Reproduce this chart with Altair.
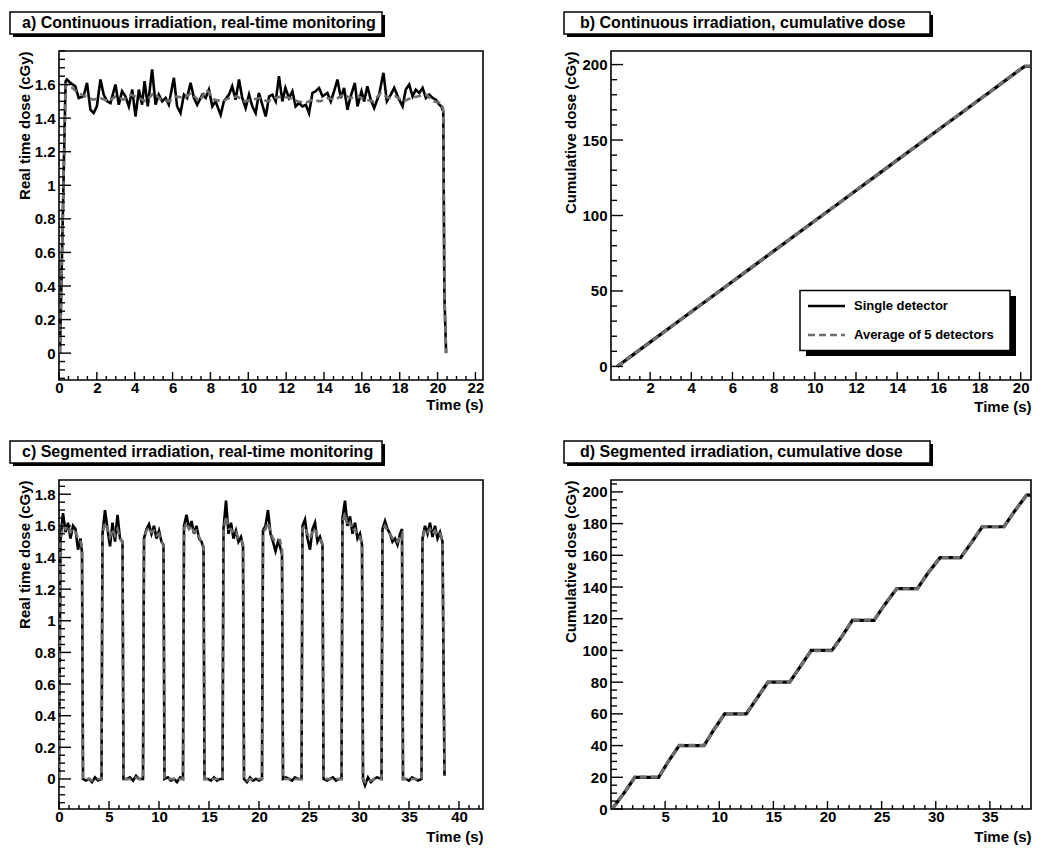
import altair as alt
import pandas as pd

FONT = "Liberation Sans"
GRAY = "#6e6e6e"

TITLES = [
    "a) Continuous irradiation, real-time monitoring",
    "b) Continuous irradiation, cumulative dose",
    "c) Segmented irradiation, real-time monitoring",
    "d) Segmented irradiation, cumulative dose",
]
LEGEND_LABELS = ["Single detector", "Average of 5 detectors"]
X_TITLE = "Time (s)"
Y_TITLE_RT = "Real time dose (cGy)"
Y_TITLE_CUM = "Cumulative dose (cGy)"

# ---------- panel a: continuous, real time ----------
A_T = [0.05, 0.35, 0.42, 0.6, 0.86, 1.04, 1.3, 1.48, 1.66, 1.83,
       2.0, 2.19, 2.36, 2.54, 2.72, 2.98, 3.16, 3.33, 3.51, 3.69,
       3.87, 4.04, 4.22, 4.39, 4.52, 4.69, 4.92, 5.1, 5.27, 5.45,
       5.63, 5.8, 6.07, 6.24, 6.42, 6.6, 6.77, 6.95, 7.13, 7.3,
       7.57, 7.75, 7.92, 8.1, 8.27, 8.54, 8.71, 8.98, 9.15, 9.33,
       9.51, 9.68, 9.86, 10.04, 10.21, 10.39, 10.56, 10.74, 10.92, 11.1,
       11.27, 11.45, 11.62, 11.8, 11.96, 12.15, 12.33, 12.5, 12.68, 12.86,
       13.04, 13.21, 13.39, 13.56, 13.74, 13.92, 14.18, 14.36, 14.53, 14.71,
       14.89, 15.06, 15.24, 15.41, 15.63, 15.77, 15.98, 16.12, 16.29, 16.47,
       16.65, 16.91, 17.14, 17.32, 17.53, 17.71, 17.97, 18.15, 18.32, 18.5,
       18.68, 18.85, 19.03, 19.21, 19.38, 19.56, 19.74, 19.91, 20.09, 20.2,
       20.3, 20.36, 20.45]
A_SINGLE = [0.0, 1.62, 1.63, 1.61, 1.59, 1.52, 1.53, 1.61, 1.45, 1.43,
            1.47, 1.63, 1.54, 1.50, 1.49, 1.60, 1.48, 1.56, 1.53, 1.47,
            1.57, 1.41, 1.57, 1.48, 1.62, 1.47, 1.69, 1.48, 1.54, 1.50,
            1.52, 1.48, 1.64, 1.47, 1.43, 1.54, 1.52, 1.61, 1.52, 1.48,
            1.54, 1.52, 1.57, 1.47, 1.50, 1.42, 1.50, 1.54, 1.59, 1.51,
            1.63, 1.52, 1.46, 1.54, 1.47, 1.43, 1.55, 1.48, 1.41, 1.53,
            1.54, 1.50, 1.65, 1.50, 1.58, 1.52, 1.56, 1.47, 1.49, 1.47,
            1.48, 1.43, 1.55, 1.56, 1.58, 1.53, 1.55, 1.50, 1.56, 1.63,
            1.52, 1.58, 1.45, 1.53, 1.61, 1.47, 1.56, 1.50, 1.59, 1.51,
            1.46, 1.54, 1.67, 1.50, 1.54, 1.58, 1.51, 1.47, 1.57, 1.60,
            1.53, 1.57, 1.55, 1.58, 1.52, 1.54, 1.52, 1.51, 1.48, 1.47,
            1.44, 0.35, 0.0]
A_AVG_T = [0.05, 0.35, 0.6, 1.0, 1.4, 1.8, 2.2, 2.6, 3.0, 3.4,
           3.8, 4.2, 4.6, 5.0, 5.4, 5.8, 6.2, 6.6, 7.0, 7.4,
           7.8, 8.2, 8.6, 9.0, 9.4, 9.8, 10.2, 10.6, 11.0, 11.4,
           11.8, 12.2, 12.6, 13.0, 13.4, 13.8, 14.2, 14.6, 15.0, 15.4,
           15.8, 16.2, 16.6, 17.0, 17.4, 17.8, 18.2, 18.6, 19.0, 19.4,
           19.8, 20.2, 20.3, 20.36, 20.45]
A_AVG = [0.0, 1.60, 1.59, 1.55, 1.53, 1.51, 1.52, 1.50, 1.53, 1.51,
         1.54, 1.52, 1.50, 1.55, 1.51, 1.50, 1.53, 1.52, 1.55, 1.50,
         1.57, 1.51, 1.50, 1.52, 1.53, 1.50, 1.51, 1.52, 1.50, 1.52,
         1.53, 1.52, 1.50, 1.49, 1.51, 1.50, 1.52, 1.51, 1.54, 1.52,
         1.53, 1.51, 1.50, 1.55, 1.52, 1.53, 1.50, 1.52, 1.53, 1.54,
         1.50, 1.49, 1.45, 0.35, 0.0]

# ---------- panel b: continuous, cumulative ----------
B_T = [0.4, 1, 2, 3, 4, 5, 6, 7, 8, 9, 10, 11, 12, 13, 14, 15, 16, 17, 18, 19, 20, 20.2, 20.45]
B_SINGLE = [0, 6.0, 16.1, 26.1, 36.2, 46.2, 56.3, 66.3, 76.4, 86.4, 96.5, 106.5,
            116.6, 126.6, 136.7, 146.7, 156.8, 166.8, 176.9, 186.9, 197.0, 198.8, 198.8]
B_AVG = [0, 6.1, 16.0, 26.2, 36.1, 46.3, 56.2, 66.4, 76.3, 86.5, 96.4, 106.6,
         116.5, 126.7, 136.6, 146.8, 156.7, 166.9, 176.8, 187.0, 197.1, 198.9, 198.9]

# ---------- panel c: segmented, real time ----------
C_T = [0.0, 0.15, 0.4, 0.65, 0.9, 1.15, 1.4, 1.65, 1.9, 2.15, 2.3, 2.4,
       2.7, 3.0, 3.3, 3.6, 3.9, 4.25,
       4.35, 4.6, 4.85, 5.1, 5.35, 5.6, 5.85, 6.1, 6.35, 6.45,
       6.8, 7.1, 7.4, 7.7, 8.0, 8.4,
       8.5, 8.75, 9.0, 9.25, 9.5, 9.75, 10.0, 10.25, 10.45, 10.55,
       10.9, 11.2, 11.5, 11.8, 12.1, 12.4,
       12.5, 12.75, 13.0, 13.25, 13.5, 13.75, 14.0, 14.25, 14.45, 14.55,
       14.9, 15.2, 15.5, 15.8, 16.1, 16.35,
       16.45, 16.7, 16.95, 17.2, 17.45, 17.7, 17.95, 18.2, 18.4, 18.5,
       18.8, 19.1, 19.4, 19.7, 20.0, 20.3,
       20.4, 20.65, 20.9, 21.15, 21.4, 21.65, 21.9, 22.1, 22.3, 22.4,
       22.7, 23.0, 23.3, 23.6, 23.9, 24.25,
       24.35, 24.6, 24.85, 25.1, 25.35, 25.6, 25.85, 26.1, 26.35, 26.45,
       26.8, 27.1, 27.4, 27.7, 28.0, 28.25,
       28.35, 28.6, 28.85, 29.1, 29.35, 29.6, 29.85, 30.1, 30.3, 30.4,
       30.6, 30.9, 31.2, 31.5, 31.8, 32.25,
       32.35, 32.6, 32.85, 33.1, 33.35, 33.6, 33.85, 34.1, 34.3, 34.4,
       34.7, 35.0, 35.3, 35.6, 35.9, 36.25,
       36.35, 36.6, 36.85, 37.1, 37.35, 37.6, 37.85, 38.1, 38.35, 38.55]
C_SINGLE = [0.0, 1.52, 1.68, 1.56, 1.62, 1.52, 1.60, 1.58, 1.45, 1.52, 1.43, 0.0,
            -0.01, 0.0, -0.02, 0.01, -0.01, 0.0,
            1.55, 1.70, 1.58, 1.47, 1.62, 1.50, 1.67, 1.52, 1.50, 0.0,
            0.0, 0.01, -0.01, 0.02, 0.0, 0.0,
            1.52, 1.58, 1.61, 1.55, 1.60, 1.52, 1.57, 1.50, 1.48, 0.0,
            0.01, -0.01, 0.0, -0.02, 0.01, 0.0,
            1.60, 1.67, 1.58, 1.63, 1.55, 1.60, 1.52, 1.50, 1.46, 0.0,
            0.0, -0.01, 0.01, -0.01, 0.0, 0.0,
            1.58, 1.76, 1.55, 1.62, 1.52, 1.57, 1.50, 1.53, 1.47, 0.0,
            -0.02, 0.01, -0.01, 0.0, -0.01, 0.0,
            1.57, 1.60, 1.70, 1.55, 1.50, 1.44, 1.50, 1.47, 1.42, 0.0,
            0.01, 0.0, -0.01, 0.01, 0.0, 0.0,
            1.60, 1.64, 1.52, 1.45, 1.58, 1.62, 1.50, 1.53, 1.48, 0.0,
            -0.01, 0.0, 0.01, -0.01, 0.0, 0.0,
            1.65, 1.76, 1.60, 1.66, 1.55, 1.62, 1.52, 1.55, 1.48, 0.0,
            -0.04, 0.01, -0.02, 0.0, 0.01, 0.0,
            1.58, 1.63, 1.58, 1.55, 1.50, 1.52, 1.48, 1.55, 1.58, 0.0,
            0.0, -0.01, 0.01, 0.0, -0.01, 0.0,
            1.52, 1.60, 1.55, 1.62, 1.53, 1.60, 1.52, 1.56, 1.50, 0.02]
C_AVG = [0.0, 1.50, 1.60, 1.58, 1.60, 1.56, 1.58, 1.56, 1.52, 1.50, 1.46, 0.0,
         0.0, 0.0, -0.01, 0.0, 0.0, 0.0,
         1.55, 1.62, 1.58, 1.53, 1.58, 1.54, 1.58, 1.52, 1.50, 0.0,
         0.0, 0.0, 0.0, 0.01, 0.0, 0.0,
         1.52, 1.57, 1.59, 1.56, 1.57, 1.54, 1.55, 1.50, 1.48, 0.0,
         0.0, 0.0, 0.0, -0.01, 0.0, 0.0,
         1.58, 1.62, 1.58, 1.60, 1.56, 1.57, 1.53, 1.50, 1.47, 0.0,
         0.0, 0.0, 0.0, 0.0, 0.0, 0.0,
         1.57, 1.66, 1.58, 1.58, 1.55, 1.56, 1.52, 1.52, 1.48, 0.0,
         -0.01, 0.0, 0.0, 0.0, 0.0, 0.0,
         1.56, 1.58, 1.62, 1.56, 1.52, 1.50, 1.51, 1.51, 1.45, 0.0,
         0.0, 0.0, 0.0, 0.0, 0.0, 0.0,
         1.58, 1.60, 1.55, 1.52, 1.56, 1.58, 1.53, 1.52, 1.48, 0.0,
         0.0, 0.0, 0.0, 0.0, 0.0, 0.0,
         1.62, 1.68, 1.60, 1.62, 1.57, 1.58, 1.54, 1.53, 1.48, 0.0,
         -0.02, 0.0, -0.01, 0.0, 0.0, 0.0,
         1.57, 1.60, 1.57, 1.55, 1.52, 1.52, 1.50, 1.53, 1.55, 0.0,
         0.0, 0.0, 0.0, 0.0, 0.0, 0.0,
         1.52, 1.58, 1.56, 1.58, 1.55, 1.57, 1.54, 1.55, 1.50, 0.02]

# ---------- panel d: segmented, cumulative ----------
D_T = [0.1, 1.2, 2.2, 4.4, 5.3, 6.3, 8.6, 9.5, 10.5, 12.5, 13.5, 14.5, 16.5, 17.5, 18.5,
       20.4, 21.4, 22.3, 24.3, 25.3, 26.4, 28.3, 29.3, 30.4, 32.3, 33.3, 34.3, 36.3, 37.3, 38.4, 38.8]
D_SINGLE = [0, 10, 20, 20, 30, 40, 40, 50, 60, 60, 70, 80, 80, 90, 100,
            100, 109.5, 119, 119, 129, 139, 139, 149, 158.5, 158.5, 168, 178, 178, 188, 198, 198]
D_AVG = [0, 10.1, 20.1, 20.1, 30, 40.1, 40.1, 50, 60.1, 60.1, 70, 79.9, 79.9, 90, 99.8,
         99.8, 109.4, 119.1, 119.1, 129, 138.9, 138.9, 149, 158.6, 158.6, 168.2, 178.1, 178.1, 188, 197.9, 197.9]

# ---------- axis ticks ----------
A_XMAJ = [0, 2, 4, 6, 8, 10, 12, 14, 16, 18, 20, 22]
A_YMAJ = [0, 0.2, 0.4, 0.6, 0.8, 1.0, 1.2, 1.4, 1.6]
B_XMAJ = [2, 4, 6, 8, 10, 12, 14, 16, 18, 20]
B_YMAJ = [0, 50, 100, 150, 200]
C_XMAJ = [0, 5, 10, 15, 20, 25, 30, 35, 40]
C_YMAJ = [0, 0.2, 0.4, 0.6, 0.8, 1.0, 1.2, 1.4, 1.6, 1.8]
D_XMAJ = [5, 10, 15, 20, 25, 30, 35]
D_YMAJ = [0, 20, 40, 60, 80, 100, 120, 140, 160, 180, 200]


def minor_ticks(lo, hi, step, majors):
    out = []
    n = int(round((hi - lo) / step))
    for i in range(n + 1):
        v = round(lo + i * step, 4)
        if all(abs(v - m) > 1e-6 for m in majors):
            out.append(v)
    return out


def panel(single, avg, xdom, ydom, w, h, xmaj, xmin, ymaj, ymin, ytitle,
          ytitle_x, xtitle_y, title, box_x0, box_x1, text_x, lw, legend=False):
    xs = alt.Scale(domain=xdom, nice=False, zero=False)
    ys = alt.Scale(domain=ydom, nice=False, zero=False)
    xaxis = alt.Axis(values=xmaj, format="~r", ticks=False, tickSize=0, domain=False,
                     grid=False, labelPadding=0, labelFlush=False, labelOverlap=False,
                     title=X_TITLE, titleX=w, titleY=xtitle_y, titleAlign="right",
                     titleBaseline="middle", titleAngle=0)
    yaxis = alt.Axis(values=ymaj, format="~r", ticks=False, tickSize=0, domain=False,
                     grid=False, labelPadding=4, labelFlush=False, labelOverlap=False,
                     title=ytitle, titleX=ytitle_x, titleY=0, titleAlign="right",
                     titleBaseline="middle", titleAngle=270)
    X = lambda f: alt.X(f, scale=xs, axis=xaxis)
    Y = lambda f: alt.Y(f, scale=ys, axis=yaxis)

    s_df = pd.DataFrame({"t": single[0], "v": single[1]})
    a_df = pd.DataFrame({"t": avg[0], "v": avg[1]})
    l1 = alt.Chart(s_df).mark_line(color="black", strokeWidth=lw, clip=True).encode(
        x=X("t:Q"), y=Y("v:Q"))
    l2 = alt.Chart(a_df).mark_line(color=GRAY, strokeWidth=lw, strokeDash=[7, 4], clip=True).encode(
        x=X("t:Q"), y=Y("v:Q"))

    def xt(vals, ln):
        return alt.Chart(pd.DataFrame({"t": vals})).mark_rule(color="black", strokeWidth=1.4).encode(
            x=X("t:Q"), y=alt.value(h), y2=alt.value(h - ln))

    def yt(vals, ln):
        return alt.Chart(pd.DataFrame({"v": vals})).mark_rule(color="black", strokeWidth=1.4).encode(
            y=Y("v:Q"), x=alt.value(0), x2=alt.value(ln))

    tdf = pd.DataFrame({"label": [title]})
    shadow = alt.Chart(tdf).mark_rect(color="black").encode(
        x=alt.value(box_x0 + 3), x2=alt.value(box_x1 + 3), y=alt.value(-36), y2=alt.value(-14))
    boxr = alt.Chart(tdf).mark_rect(fill="white", stroke="black", strokeWidth=1.5).encode(
        x=alt.value(box_x0), x2=alt.value(box_x1), y=alt.value(-39), y2=alt.value(-17))
    txt = alt.Chart(tdf).mark_text(align="left", baseline="middle", font=FONT, fontSize=16,
                                   fontWeight="bold", color="black").encode(
        x=alt.value(text_x), y=alt.value(-28), text="label:N")
    layers = [l1, l2, xt(xmaj, 8), xt(xmin, 4), yt(ymaj, 12), yt(ymin, 6), shadow, boxr, txt]

    if legend:
        ldf = pd.DataFrame({"label": LEGEND_LABELS})
        lshadow = alt.Chart(ldf.head(1)).mark_rect(color="black").encode(
            x=alt.value(195), x2=alt.value(405), y=alt.value(245), y2=alt.value(305))
        lbox = alt.Chart(ldf.head(1)).mark_rect(fill="white", stroke="black", strokeWidth=1.5).encode(
            x=alt.value(189), x2=alt.value(399), y=alt.value(239.5), y2=alt.value(299.5))
        r1 = alt.Chart(ldf.head(1)).mark_rule(color="black", strokeWidth=2.6).encode(
            x=alt.value(197), x2=alt.value(234), y=alt.value(255))
        r2 = alt.Chart(ldf.head(1)).mark_rule(color=GRAY, strokeWidth=2.6, strokeDash=[7, 4]).encode(
            x=alt.value(197), x2=alt.value(234), y=alt.value(284))
        t1 = alt.Chart(ldf.iloc[[0]]).mark_text(align="left", baseline="middle", font=FONT, fontSize=13,
                                               fontWeight="bold", color="black").encode(
            x=alt.value(243), y=alt.value(255), text="label:N")
        t2 = alt.Chart(ldf.iloc[[1]]).mark_text(align="left", baseline="middle", font=FONT, fontSize=13,
                                               fontWeight="bold", color="black").encode(
            x=alt.value(243), y=alt.value(284), text="label:N")
        layers += [lshadow, lbox, r1, r2, t1, t2]

    return alt.layer(*layers).properties(width=w, height=h)


H = 329
pa = panel((A_T, A_SINGLE), (A_AVG_T, A_AVG), [0, 22.4], [-0.16, 1.8], 424, H,
           A_XMAJ, minor_ticks(0, 22, 0.5, A_XMAJ), A_YMAJ, minor_ticks(-0.15, 1.8, 0.05, A_YMAJ),
           Y_TITLE_RT, -35, 24, TITLES[0], -49, 323, -37, 2.6)
pb = panel((B_T, B_SINGLE), (B_T, B_AVG), [0.1, 20.5], [-9, 209], 420, H,
           B_XMAJ, minor_ticks(0.5, 20.0, 0.5, B_XMAJ), B_YMAJ, minor_ticks(10, 200, 10, B_YMAJ),
           Y_TITLE_CUM, -41, 26, TITLES[1], -47, 319, -31, 3.2, legend=True)
pc = panel((C_T, C_SINGLE), (C_T, C_AVG), [0, 42.4], [-0.19, 1.89], 424, H,
           C_XMAJ, minor_ticks(1, 42, 1, C_XMAJ), C_YMAJ, minor_ticks(-0.15, 1.85, 0.05, C_YMAJ),
           Y_TITLE_RT, -35, 27, TITLES[2], -49, 323, -37, 2.6)
pd_ = panel((D_T, D_SINGLE), (D_T, D_AVG), [0, 38.8], [0, 207.5], 420, H,
            D_XMAJ, minor_ticks(1, 38, 1, D_XMAJ), D_YMAJ, minor_ticks(5, 205, 5, D_YMAJ),
            Y_TITLE_CUM, -41, 27, TITLES[3], -47, 319, -31, 3.2)

chart = alt.concat(pa, pb, pc, pd_, columns=2, spacing={"row": 100, "column": 128},
                   bounds="flush").properties(
    padding={"left": 0, "top": 2, "right": 5, "bottom": 5}
).configure(font=FONT).configure_view(
    stroke="black", strokeWidth=1.6
).configure_axis(
    labelFont=FONT, labelFontSize=15, labelFontWeight="bold", labelColor="black",
    titleFont=FONT, titleFontSize=15, titleFontWeight="bold", titleColor="black"
)

chart.save("out.html", embed_options={"renderer": "svg", "actions": False})
